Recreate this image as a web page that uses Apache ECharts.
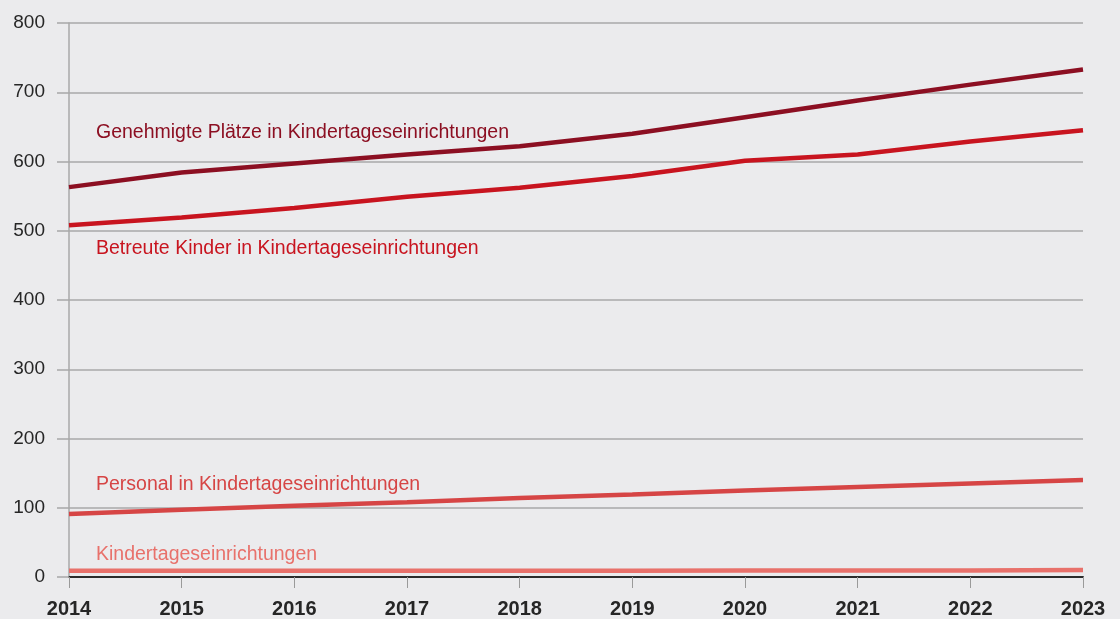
<!DOCTYPE html>
<html>
<head>
<meta charset="utf-8">
<script src="https://cdn.jsdelivr.net/npm/echarts@6/dist/echarts.min.js"></script>
<style>
html,body{margin:0;padding:0;background:#ebebed;}
#chart{width:1120px;height:619px;}
</style>
</head>
<body>
<div id="chart"></div>
<script>
var years = ['2014','2015','2016','2017','2018','2019','2020','2021','2022','2023'];
var seriesNames = [
	'Genehmigte Plätze in Kindertageseinrichtungen',
	'Betreute Kinder in Kindertageseinrichtungen',
	'Personal in Kindertageseinrichtungen',
	'Kindertageseinrichtungen'
];
var plaetze  = [563, 584, 597, 610, 622, 640, 664, 688, 711, 733];
var kinder   = [508, 519, 533, 549, 562, 579, 601, 610, 629, 645];
var personal = [91, 97, 103, 108, 114, 119, 125, 130, 135, 140];
var kitas    = [9, 9, 9, 9, 9, 9, 9.5, 9.5, 9.5, 10];
// Höhe der Beschriftungen (Achsenwert)
var labelLevels = [641, 474, 133, 33];

var colors = ['#8c0f22', '#c8141f', '#d64545', '#e8716b'];
var allData = [plaetze, kinder, personal, kitas];

var chart = echarts.init(document.getElementById('chart'));

var series = [];
for (var i = 0; i < allData.length; i++) {
	series.push({
		name: seriesNames[i],
		type: 'line',
		data: allData[i],
		symbol: 'none',
		lineStyle: {width: 4.5, color: colors[i]},
		itemStyle: {color: colors[i]},
		z: 10 - i,
		markPoint: {
			symbol: 'circle',
			symbolSize: 0,
			silent: true,
			data: [{
				coord: [years[0], labelLevels[i]],
				label: {
					show: true,
					position: 'right',
					distance: 27,
					formatter: seriesNames[i],
					color: colors[i],
					fontSize: 19.5,
					fontFamily: 'Liberation Sans, Arial, sans-serif'
				}
			}]
		}
	});
}

var option = {
	backgroundColor: '#ebebed',
	animation: false,
	grid: {left: 69, right: 37, top: 23, bottom: 42, containLabel: false},
	xAxis: {
		type: 'category',
		boundaryGap: false,
		data: years,
		axisLine: {show: true, lineStyle: {color: '#2b2b2b', width: 2}},
		axisTick: {show: true, length: 11, alignWithLabel: true, lineStyle: {color: '#9a9a9a', width: 1}},
		axisLabel: {
			margin: 22,
			color: '#262626',
			fontSize: 20,
			fontWeight: 'bold',
			fontFamily: 'Liberation Sans, Arial, sans-serif'
		},
		splitLine: {show: false}
	},
	yAxis: {
		type: 'value',
		min: 0,
		max: 800,
		interval: 100,
		axisLine: {show: true, lineStyle: {color: '#a8a8a8', width: 1.5}},
		axisTick: {show: true, length: 12, lineStyle: {color: '#a8a8a8', width: 1.5}},
		axisLabel: {
			margin: 24,
			color: '#262626',
			fontSize: 19,
			fontFamily: 'Liberation Sans, Arial, sans-serif'
		},
		splitLine: {show: true, lineStyle: {color: '#a8a8a8', width: 1.5}}
	},
	series: series
};

chart.setOption(option);
</script>
</body>
</html>
